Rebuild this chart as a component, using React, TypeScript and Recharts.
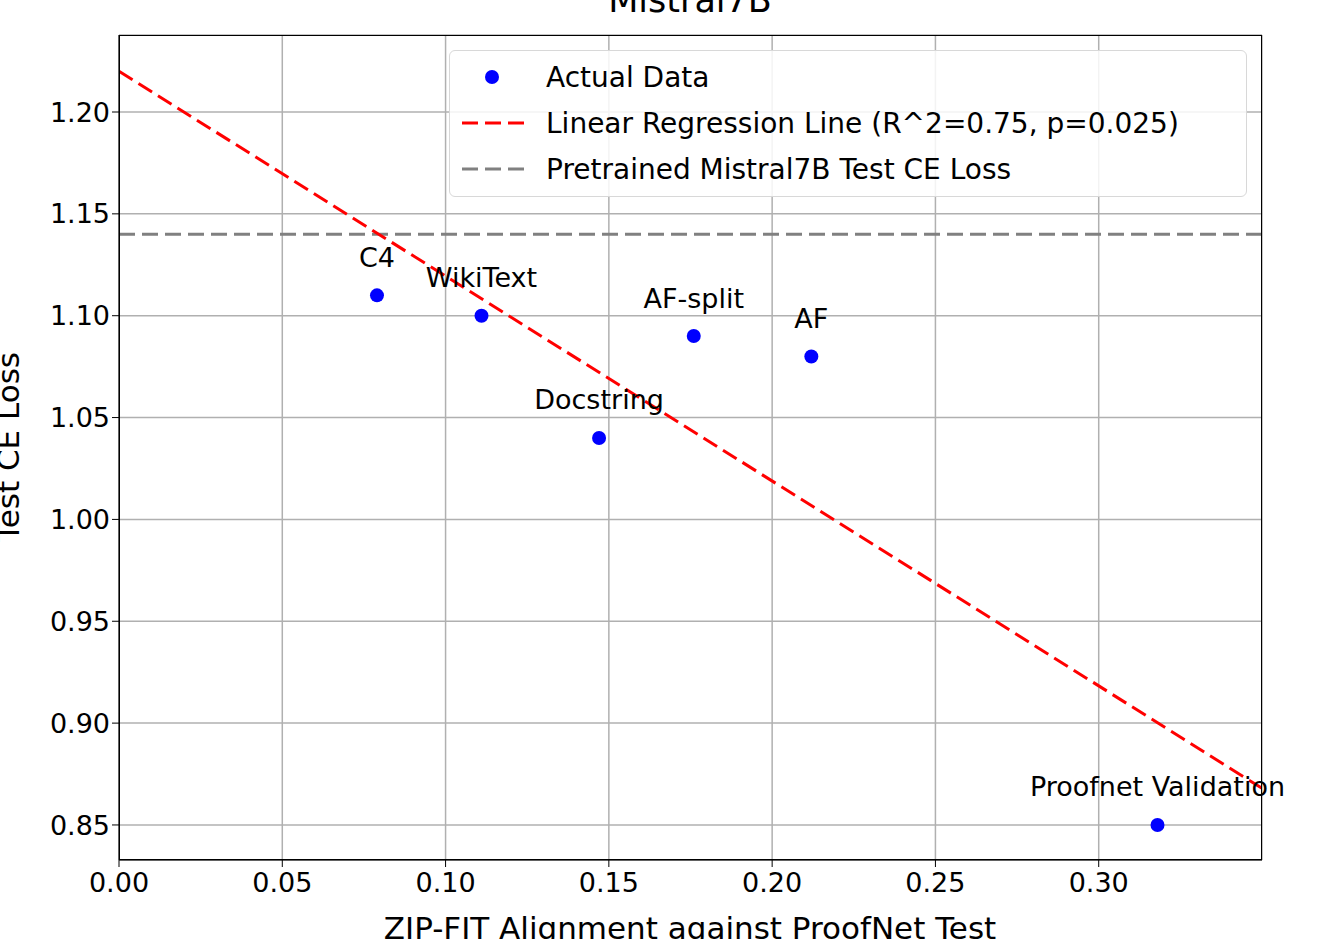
import React from 'react'
import { ComposedChart, Scatter, XAxis, YAxis, CartesianGrid, ReferenceLine, LabelList } from 'recharts'

const datasets = ['C4', 'WikiText', 'Docstring', 'AF-split', 'AF', 'Proofnet Validation']
const alignment = [0.079, 0.111, 0.147, 0.176, 0.212, 0.318]
const ceLoss = [1.11, 1.10, 1.04, 1.09, 1.08, 0.85]
const regressionX = [0, 0.35]
const regressionY = [1.22, 0.868]
const pretrainedLoss = 1.14
const xTicks = [0, 0.05, 0.1, 0.15, 0.2, 0.25, 0.3]
const yTicks = [0.85, 0.9, 0.95, 1.0, 1.05, 1.1, 1.15, 1.2]

const points = datasets.map((name, i) => ({ name, x: alignment[i], y: ceLoss[i] }))
const regression = regressionX.map((x, i) => ({ x, y: regressionY[i] }))

const font = 'DejaVu Sans, sans-serif'

const PointLabel = (p: any) => (
  <text x={p.x + p.width / 2} y={p.y - 24} textAnchor="middle" fontSize={27} fontFamily={font} fill="#000">{p.value}</text>
)

export default function App() {
  return (
    <div style={{ position: 'absolute', left: 0, top: 0, width: 1320, height: 939, background: '#fff', overflow: 'hidden', fontFamily: font }}>
      <div style={{ position: 'absolute', left: 0, width: 1380, top: -20, textAlign: 'center', fontSize: 35 }}>Mistral7B</div>
      <ComposedChart width={1320} height={939} margin={{ top: 35, right: 58, bottom: 19, left: 29 }}>
        <CartesianGrid stroke="#b0b0b0" strokeWidth={1.5} />
        <XAxis type="number" dataKey="x" domain={[0, 0.35]} ticks={xTicks} height={60}
          tickFormatter={(v: number) => v.toFixed(2)} stroke="#000" tick={{ fill: '#000', fontSize: 27, fontFamily: font }} tickSize={7} tickMargin={6} allowDataOverflow />
        <YAxis type="number" dataKey="y" domain={[0.8328, 1.2378]} ticks={yTicks} width={90}
          tickFormatter={(v: number) => v.toFixed(2)} stroke="#000" tick={{ fill: '#000', fontSize: 27, fontFamily: font }} tickSize={7} allowDataOverflow />
        <ReferenceLine y={pretrainedLoss} stroke="#808080" strokeWidth={3} strokeDasharray="16 7" />
        <Scatter data={regression} fill="none" isAnimationActive={false} shape={() => null}
          line={{ stroke: '#ff0000', strokeWidth: 3, strokeDasharray: '16 7' }} />
        <Scatter data={points} fill="#0000ff" isAnimationActive={false}
          shape={(p: any) => <circle cx={p.cx} cy={p.cy} r={7} fill="#0000ff" />}>
          <LabelList dataKey="name" content={PointLabel} />
        </Scatter>
      </ComposedChart>
      <div style={{ position: 'absolute', left: 119, top: 35, width: 1143, height: 825, border: '1.5px solid #000', boxSizing: 'border-box', pointerEvents: 'none' }} />
      <div style={{ position: 'absolute', left: 0, width: 1380, top: 910, textAlign: 'center', fontSize: 31 }}>ZIP-FIT Alignment against ProofNet Test</div>
      <div style={{ position: 'absolute', left: 8, top: 447, fontSize: 31, transform: 'translate(-50%, -50%) rotate(-90deg)', whiteSpace: 'nowrap' }}>Test CE Loss</div>
      <div style={{ position: 'absolute', left: 449, top: 50, width: 798, height: 147, border: '1.5px solid #d8d8d8', borderRadius: 6, background: 'rgba(255,255,255,0.85)', boxSizing: 'border-box', fontSize: 28 }}>
        {[
          { label: 'Actual Data', kind: 'dot', color: '#0000ff' },
          { label: 'Linear Regression Line (R^2=0.75, p=0.025)', kind: 'line', color: '#ff0000' },
          { label: 'Pretrained Mistral7B Test CE Loss', kind: 'line', color: '#808080' },
        ].map((e, i) => (
          <div key={i} style={{ position: 'absolute', left: 0, top: 8 + i * 46, height: 36, display: 'flex', alignItems: 'center', whiteSpace: 'nowrap' }}>
            <svg width={96} height={36}>
              {e.kind === 'dot'
                ? <circle cx={42} cy={18} r={7} fill={e.color} />
                : <line x1={12} x2={76} y1={18} y2={18} stroke={e.color} strokeWidth={3} strokeDasharray="16 7" />}
            </svg>
            <span>{e.label}</span>
          </div>
        ))}
      </div>
    </div>
  )
}
